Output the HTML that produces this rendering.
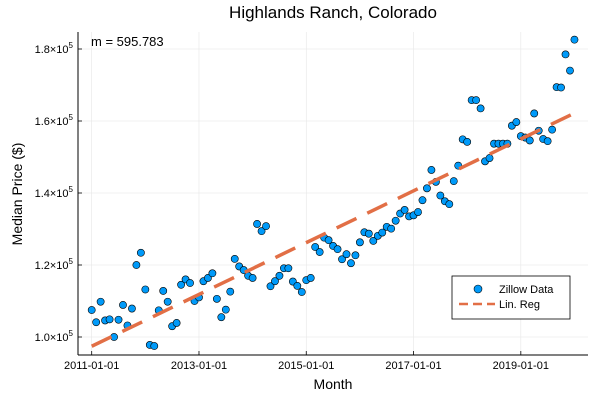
<!DOCTYPE html>
<html><head><meta charset="utf-8"><style>
html,body{margin:0;padding:0;background:#fff;}
svg{display:block;font-family:"Liberation Sans",sans-serif;}
</style></head><body>
<svg id="chart" width="600" height="400" viewBox="0 0 600 400"></svg>
<script>
const prices = [107500,104100,109800,104600,104900,100000,104800,108900,103200,107900,120000,123400,113200,97800,97500,107400,112800,109800,103000,103900,114500,116000,115000,110000,111000,115500,116400,117700,110600,105500,107600,112600,121700,119600,118600,117000,116400,131400,129400,130800,114100,115500,117000,119100,119100,115400,114200,112500,115800,116400,125000,123600,127600,126900,125300,124400,121600,123000,120500,122700,126300,129100,128700,126700,128100,129000,130600,130100,132300,134300,135300,133500,133800,134700,138000,141300,146400,143100,139300,137700,136900,143300,147600,154900,154200,165800,165800,163500,148800,149700,153700,153700,153700,153700,158700,159700,155800,155400,154600,162100,157300,155000,154400,157600,169400,169300,178500,174000,182600];
const monthIndex = [];
for (let i = 0; i < prices.length; i++) monthIndex.push(i);
const yTicks = [100000,120000,140000,160000,180000];
const yTickMant = ["1.0","1.2","1.4","1.6","1.8"];
const xTicks = [0,24,48,72,96];
const xTickLabels = ["2011-01-01","2013-01-01","2015-01-01","2017-01-01","2019-01-01"];

const svg = document.getElementById('chart');
const NS = 'http://www.w3.org/2000/svg';
const L = 78, R = 588, T = 32, B = 355;
function xs(m){ return 91.7 + m * 4.47; }
function ys(v){ return 337 - (v - 100000) * 72 / 20000; }
function mk(tag, attrs, parent){ const e = document.createElementNS(NS, tag); for (const k in attrs) e.setAttribute(k, attrs[k]); (parent||svg).appendChild(e); return e; }

yTicks.forEach((v,i)=>{
  const g = mk('line',{x1:L,x2:R,y1:ys(v),y2:ys(v),stroke:'#e6e6e6','stroke-width':0.6});
  
  
  const t = mk('text',{x:L-5,y:ys(v)+4,'text-anchor':'end','font-size':11,fill:'#000'});
  
  
  t.innerHTML = yTickMant[i] + '×10<tspan font-size="8" dy="-5">5</tspan>';
  mk('line',{x1:L,x2:L+4,y1:ys(v),y2:ys(v),stroke:'#000','stroke-width':0.8});
});
xTicks.forEach((m,i)=>{
  const g = mk('line',{x1:xs(m),x2:xs(m),y1:T,y2:B,stroke:'#e6e6e6','stroke-width':0.6});
  
  
  const t = mk('text',{x:xs(m),y:B+14,'text-anchor':'middle','font-size':11,fill:'#000'});
  
  
  t.textContent = xTickLabels[i];
  mk('line',{x1:xs(m),x2:xs(m),y1:B,y2:B-4,stroke:'#000','stroke-width':0.8});
});
const ax1 = mk('line',{x1:L,x2:L,y1:T,y2:B,stroke:'#000','stroke-width':1});


const ax2 = mk('line',{x1:L,x2:R,y1:B,y2:B,stroke:'#000','stroke-width':1});



const n = monthIndex.length;
let sx=0,sy=0,sxx=0,sxy=0;
for(let i=0;i<n;i++){sx+=monthIndex[i];sy+=prices[i];sxx+=monthIndex[i]*monthIndex[i];sxy+=monthIndex[i]*prices[i];}
const slope=(n*sxy-sx*sy)/(n*sxx-sx*sx), icpt=(sy-slope*sx)/n;
const m0=monthIndex[0], m1=monthIndex[n-1];

prices.forEach((v,i)=>{
  const c = mk('circle',{cx:xs(monthIndex[i]),cy:ys(v),r:3.6,fill:'#009af9',stroke:'#000','stroke-width':0.6});
  
  
});
const reg = mk('line',{x1:xs(m0),y1:ys(icpt+slope*m0),x2:xs(m1),y2:ys(icpt+slope*m1),stroke:'#e26f46','stroke-width':3.5,'stroke-dasharray':'22 12'});



function txt(name,attrs,s){ const t=mk('text',attrs);   t.textContent=s; return t; }
txt('chart-title',{x:333,y:18,'text-anchor':'middle','font-size':17},'Highlands Ranch, Colorado');
txt('slope-annotation',{x:91,y:46,'font-size':13},'m = 595.783');
txt('x-axis-title',{x:333,y:389,'text-anchor':'middle','font-size':14},'Month');
txt('y-axis-title',{x:22,y:194,'text-anchor':'middle','font-size':14,transform:'rotate(-90 22 194)'},'Median Price ($)');

const lg = mk('g',{});


mk('rect',{x:452,y:276,width:118,height:43,fill:'#fff',stroke:'#000','stroke-width':0.8},lg);
const lc = mk('circle',{cx:478,cy:289,r:4,fill:'#009af9',stroke:'#000','stroke-width':0.6},lg);


const ll = mk('line',{x1:459,x2:495,y1:304,y2:304,stroke:'#e26f46','stroke-width':2.5,'stroke-dasharray':'9 5'},lg);


const t1 = mk('text',{x:499,y:293,'font-size':11},lg); t1.textContent='Zillow Data';


const t2 = mk('text',{x:499,y:308,'font-size':11},lg); t2.textContent='Lin. Reg';


</script>
</body></html>
